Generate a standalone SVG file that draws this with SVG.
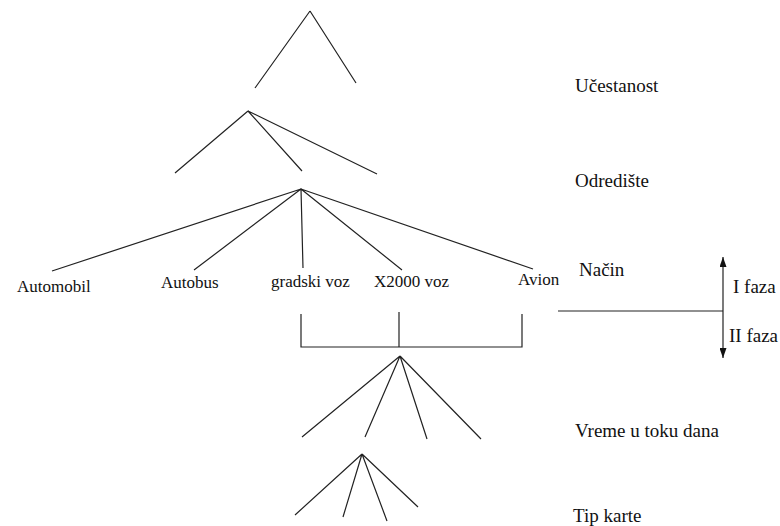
<svg xmlns="http://www.w3.org/2000/svg" width="780" height="526" viewBox="0 0 780 526">
<style>
.ln{stroke:#222;stroke-width:1.2;fill:none}
.s{font-family:"Liberation Serif","Times New Roman",serif;font-size:17px;fill:#111}
.b{font-family:"Liberation Serif","Times New Roman",serif;font-size:19px;fill:#111}
</style>
<defs>
<marker id="ah" viewBox="0 0 10 7" refX="10" refY="3.5" markerWidth="10" markerHeight="7" markerUnits="userSpaceOnUse" orient="auto-start-reverse">
<path d="M0,0 L10,3.5 L0,7 z" fill="#111"/>
</marker>
</defs>
<rect width="780" height="526" fill="#fff"/>
<g id="connectors">
<path class="ln" d="M310,11 L255,88 M310,11 L356,83"/>
<path class="ln" d="M248,111 L175,173 M248,111 L302,171 M248,111 L377,174"/>
<path class="ln" d="M301,189 L52,271 M301,189 L194,270 M301,189 L303,268 M301,189 L402,270 M301,189 L533,269"/>
<path class="ln" d="M301,314 L301,347 L522,347 L522,314 M399,312 L399,347"/>
<path class="ln" d="M400,356 L302,437 M400,356 L365,437 M400,356 L427,439 M400,356 L481,439"/>
<path class="ln" d="M362,454 L295,515 M362,454 L343,517 M362,454 L387,521 M362,454 L418,507"/>
<path class="ln" d="M558,311 L723,311"/>
<line class="ln" x1="723" y1="311" x2="723" y2="257" marker-end="url(#ah)"/>
<line class="ln" x1="723" y1="311" x2="723" y2="358" marker-end="url(#ah)"/>
</g>
<g id="node-automobil"><text class="s" x="17" y="292">Automobil</text></g>
<g id="node-autobus"><text class="s" x="161" y="288">Autobus</text></g>
<g id="node-gradski-voz"><text class="s" x="271" y="287">gradski voz</text></g>
<g id="node-x2000-voz"><text class="s" x="374" y="287">X2000 voz</text></g>
<g id="node-avion"><text class="s" x="518" y="285">Avion</text></g>
<g id="label-ucestanost"><text class="b" x="575" y="92">Učestanost</text></g>
<g id="label-odrediste"><text class="b" x="575" y="187">Odredište</text></g>
<g id="label-nacin"><text class="b" x="579" y="276">Način</text></g>
<g id="label-i-faza"><text class="b" x="733" y="293">I faza</text></g>
<g id="label-ii-faza"><text class="b" x="729" y="342">II faza</text></g>
<g id="label-vreme"><text class="b" x="575" y="437">Vreme u toku dana</text></g>
<g id="label-tip-karte"><text class="b" x="573" y="522">Tip karte</text></g>
</svg>
